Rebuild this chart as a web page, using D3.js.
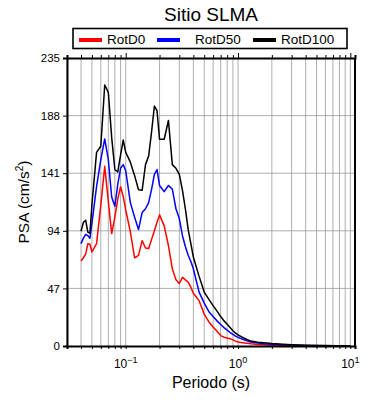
<!DOCTYPE html>
<html>
<head>
<meta charset="utf-8">
<script src="https://cdn.jsdelivr.net/npm/d3@7"></script>
<style>
  body { margin: 0; background: #fff; }
  svg { font-family: "Liberation Sans", Arial, Helvetica, sans-serif; }
</style>
</head>
<body>
<div id="chart"></div>
<script>
// periodos (s)
var periods = [0.04, 0.042, 0.044, 0.046, 0.048, 0.05, 0.055, 0.06, 0.065, 0.07, 0.075, 0.08, 0.085, 0.09, 0.095,
  0.1, 0.11, 0.12, 0.13, 0.14, 0.15, 0.16, 0.17, 0.18, 0.19, 0.2, 0.22, 0.24, 0.26, 0.28, 0.3, 0.32, 0.34, 0.36, 0.38,
  0.4, 0.45, 0.5, 0.55, 0.6, 0.65, 0.7, 0.75, 0.8, 0.85, 0.9, 0.95, 1.0, 1.1, 1.2, 1.3, 1.5, 1.7, 2.0, 2.5, 3.0,
  4.0, 5.0, 6.0, 7.5, 10];

var rotD0 = [69.4, 72, 75, 83.5, 83, 76.7, 83.5, 115, 146.6, 118, 91.7, 105, 120, 130, 122,
  111, 93, 72, 74, 86, 80, 79.5, 87, 94, 101, 107, 98, 82, 63, 54, 51, 56, 54, 52, 48,
  43, 37, 26, 19.6, 15.5, 12, 8.5, 7.2, 6.5, 6, 5, 4, 3.3, 2.7, 2.2, 1.8, 1.3, 1.0, 0.7, 0.5, 0.35,
  0.2, 0.15, 0.12, 0.08, 0.05];

var rotD50 = [83.5, 88, 91, 90, 88, 100, 130, 152, 169, 152, 121.6, 114, 132, 145, 148,
  143, 117, 105, 95, 109, 112, 117, 128, 140, 144, 131, 126, 131, 128, 112, 104, 90, 81, 74, 69,
  63, 44, 35, 28, 24, 20.5, 17.5, 15, 13, 11, 9.5, 8, 7, 5.5, 4.2, 3.3, 2.4, 1.9, 1.4, 1.0, 0.7,
  0.45, 0.32, 0.25, 0.18, 0.1];

var rotD100 = [93.6, 101, 102.6, 93, 92, 115, 158, 163, 213, 207, 170, 144, 142, 156, 168,
  158, 150, 139, 127.5, 127, 148, 155, 175, 195.8, 192, 168.7, 168.7, 184, 148, 145, 140, 127, 111.6, 95, 83.5,
  72.6, 56.8, 44, 38, 33, 28.5, 24, 20.5, 17.7, 15, 12.5, 10.5, 9, 7, 5.3, 4, 3.1, 2.6, 2.0, 1.4, 1.0,
  0.6, 0.45, 0.35, 0.25, 0.15];

var seriesNames = ["RotD0", "RotD50", "RotD100"];
var seriesColors = ["#ff0000", "#0000ff", "#000000"];
var yTicks = [0, 47, 94, 141, 188, 235];
var xMajor = [0.1, 1, 10];
var xExp = ["\u22121", "0", "1"];

var W = 390, H = 400;
var margin = {left: 67, right: 35, top: 58, bottom: 54};

var svg = d3.select("#chart").append("svg")
  .attr("width", W).attr("height", H);

var x = d3.scaleLog().domain([0.03, 11]).range([margin.left, W - margin.right]);
var y = d3.scaleLinear().domain([0, 235]).range([H - margin.bottom, margin.top]);

// minor positions for grid/ticks
var xMinor = [];
[0.01, 0.1, 1].forEach(function(d){
  for (var k = 2; k <= 9; k++) {
    var v = +(d * k).toPrecision(3);
    if (v >= 0.03 && v <= 11) xMinor.push(v);
  }
});

// grid
svg.append("g").selectAll("line.vg")
  .data(xMinor.concat(xMajor))
  .enter().append("line")
  .attr("x1", function(d){ return x(d); }).attr("x2", function(d){ return x(d); })
  .attr("y1", y(0)).attr("y2", y(235))
  .attr("stroke", "#999").attr("stroke-width", 0.8);

svg.append("g").selectAll("line.hg")
  .data(yTicks.slice(1, -1))
  .enter().append("line")
  .attr("x1", x.range()[0]).attr("x2", x.range()[1])
  .attr("y1", function(d){ return y(d); }).attr("y2", function(d){ return y(d); })
  .attr("stroke", "#999").attr("stroke-width", 0.8);

// curves
var allSeries = [rotD0, rotD50, rotD100];
var line = d3.line()
  .x(function(d, i){ return x(periods[i]); })
  .y(function(d){ return y(d); });

allSeries.forEach(function(s, i){
  svg.append("path")
    .datum(s)
    .attr("d", line)
    .attr("fill", "none")
    .attr("stroke", seriesColors[i])
    .attr("stroke-width", 1.5)
    .attr("stroke-linejoin", "round");
});

// axes
var bottomAxis = d3.axisBottom(x).tickValues(xMinor.concat(xMajor)).tickSize(3).tickFormat("");
svg.append("g").attr("transform", "translate(0," + y(0) + ")").call(bottomAxis);
var topAxis = d3.axisTop(x).tickValues(xMinor).tickSize(3).tickFormat("");
svg.append("g").attr("transform", "translate(0," + y(235) + ")").call(topAxis);
var topMajor = d3.axisTop(x).tickValues(xMajor).tickSize(5).tickFormat("");
svg.append("g").attr("transform", "translate(0," + y(235) + ")").call(topMajor).select(".domain").remove();
var leftAxis = d3.axisLeft(y).tickValues(yTicks).tickSize(4).tickPadding(3);
var gl = svg.append("g").attr("transform", "translate(" + x.range()[0] + ",0)").call(leftAxis);

svg.selectAll(".domain").attr("stroke-width", 2);
gl.selectAll("text").attr("font-size", 11.5).attr("fill", "#000").attr("font-family", "Liberation Sans, Arial, sans-serif");

// right frame
svg.append("line")
  .attr("x1", x.range()[1]).attr("x2", x.range()[1])
  .attr("y1", y(0)).attr("y2", y(235))
  .attr("stroke", "#000").attr("stroke-width", 2);

// x labels 10^n
var xl = svg.append("g").selectAll("text")
  .data(xMajor).enter().append("text")
  .attr("x", function(d){ return x(d); })
  .attr("y", y(0) + 22)
  .attr("text-anchor", "middle")
  .attr("font-size", 12);
xl.append("tspan").text("10");
xl.append("tspan").attr("dy", -5).attr("font-size", 9).text(function(d, i){ return xExp[i]; });

// axis titles
svg.append("text")
  .attr("x", (x.range()[0] + x.range()[1]) / 2)
  .attr("y", 388)
  .attr("text-anchor", "middle")
  .attr("font-size", 16)
  .text("Periodo (s)");

var yl = svg.append("text")
  .attr("transform", "translate(29," + ((y(0) + y(235)) / 2) + ") rotate(-90)")
  .attr("text-anchor", "middle")
  .attr("font-size", 15.5);
yl.append("tspan").text("PSA (cm/s");
yl.append("tspan").attr("dy", -6).attr("font-size", 10).text("2");
yl.append("tspan").attr("dy", 6).text(")");

// title
svg.append("text")
  .attr("x", 211).attr("y", 21)
  .attr("text-anchor", "middle")
  .attr("font-size", 19)
  .text("Sitio SLMA");

// legend
var lg = svg.append("g");
lg.append("rect")
  .attr("x", 73).attr("y", 28.5).attr("width", 274).attr("height", 20)
  .attr("fill", "#fff").attr("stroke", "#000").attr("stroke-width", 1.6);
var legX = [79, 157, 253];
seriesNames.forEach(function(n, i){
  lg.append("line")
    .attr("x1", legX[i]).attr("x2", legX[i] + 23)
    .attr("y1", 40).attr("y2", 40)
    .attr("stroke", seriesColors[i]).attr("stroke-width", 4);
  lg.append("text")
    .attr("x", legX[i] + (i === 1 ? 38 : 28)).attr("y", 43.5)
    .attr("font-size", 13.5)
    .text(n);
});
</script>
</body>
</html>
